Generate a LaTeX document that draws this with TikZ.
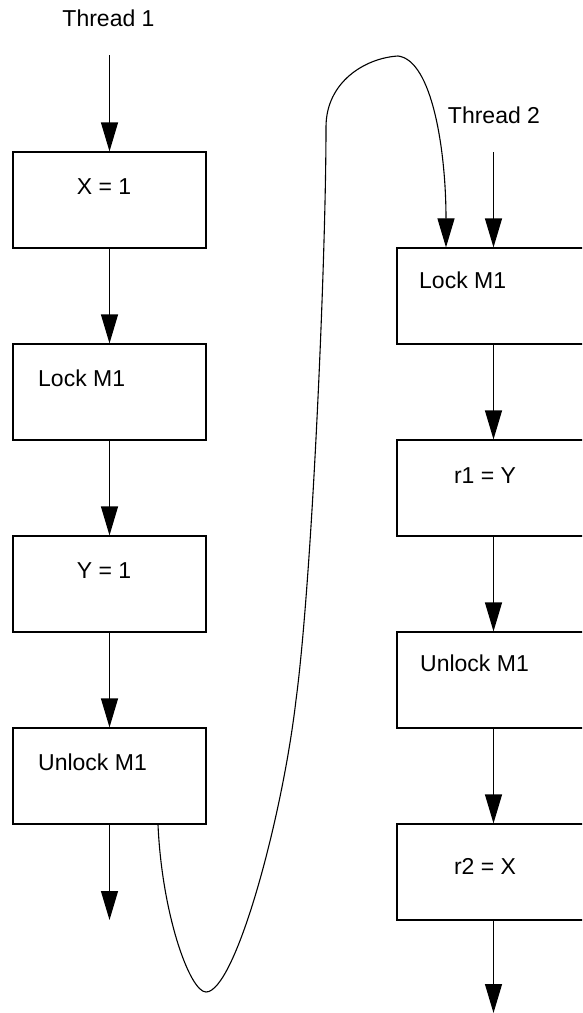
\documentclass[tikz,border=0pt]{standalone}
\usepackage{fontspec}
\setmainfont{Liberation Sans}
\usetikzlibrary{arrows.meta,calc}
\begin{document}
\begin{tikzpicture}[x=1pt,y=-1pt,
  box/.style={draw,line width=1.2pt,minimum width=193pt,minimum height=96pt,inner sep=0pt},
  lbl/.style={inner sep=0pt,font=\fontsize{23}{27}\selectfont},
  arr/.style={line width=1.2pt,-{Triangle[length=29pt,width=17pt]}},
  curve/.style={line width=1.1pt}]
\useasboundingbox (0,0) rectangle (582,1013);
\clip (0,0) rectangle (582,1013);
% left column
\node[box] (L1) at (109.5,200) {};
\node[box] (L2) at (109.5,392) {};
\node[box] (L3) at (109.5,584) {};
\node[box] (L4) at (109.5,776) {};
% right column
\node[box] (R1) at (493.5,296) {};
\node[box] (R2) at (493.5,488) {};
\node[box] (R3) at (493.5,680) {};
\node[box] (R4) at (493.5,872) {};
% labels
\node[lbl,anchor=base] (T1) at (108.5,26) {Thread 1};
\node[lbl,anchor=base] (T2) at (494,123) {Thread 2};
\node[lbl,anchor=base] (tL1) at (104,194) {X = 1};
\node[lbl,anchor=base west] (tL2) at (38,386) {Lock M1};
\node[lbl,anchor=base] (tL3) at (104,578) {Y = 1};
\node[lbl,anchor=base west] (tL4) at (38,770) {Unlock M1};
\node[lbl,anchor=base west] (tR1) at (419,288) {Lock M1};
\node[lbl,anchor=base] (tR2) at (485,483) {r1 = Y};
\node[lbl,anchor=base west] (tR3) at (420,671) {Unlock M1};
\node[lbl,anchor=base] (tR4) at (485,874) {r2 = X};
% free ends
\coordinate (s1) at (109.5,55);
\coordinate (e1) at (109.5,920);
\coordinate (s2) at (493.5,152);
\coordinate (e2) at (493.5,1013);
% arrows
\draw[arr] (s1) -- (L1.north);
\draw[arr] (L1.south) -- (L2.north);
\draw[arr] (L2.south) -- (L3.north);
\draw[arr] (L3.south) -- (L4.north);
\draw[arr] (L4.south) -- (e1);
\draw[arr] (s2) -- (R1.north);
\draw[arr] (R1.south) -- (R2.north);
\draw[arr] (R2.south) -- (R3.north);
\draw[arr] (R3.south) -- (R4.north);
\draw[arr] (R4.south) -- (e2);
% cross-thread curve
\draw[curve,-{Triangle[length=29pt,width=17pt]}] ($(L4.south)+(48.5,0)$)
  .. controls (162,915) and (190,992) .. (206,992)
  .. controls (235,992) and (282,820) .. (296,700)
  .. controls (312,580) and (326,260) .. (326,127)
  .. controls (326,82) and (365,58) .. (398,56)
  .. controls (432,60) and (446,150) .. ($(R1.north)+(-47.5,0)$);
\end{tikzpicture}
\end{document}
